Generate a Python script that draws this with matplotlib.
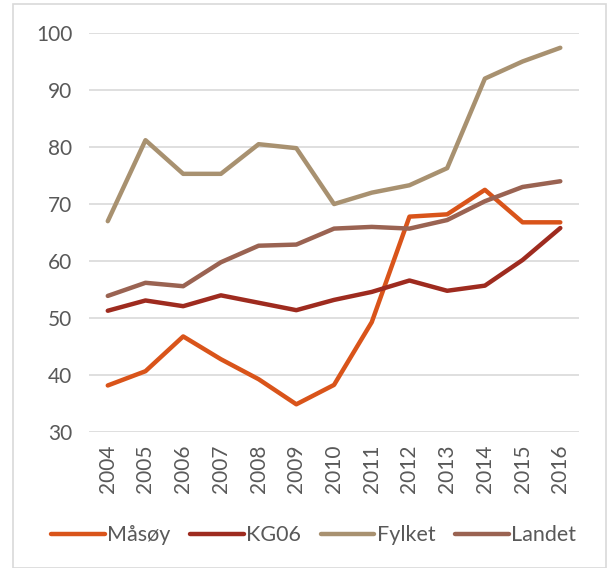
import matplotlib
matplotlib.use('Agg')
from matplotlib import pyplot as plt
from matplotlib.patches import Rectangle

years = ["2004", "2005", "2006", "2007", "2008", "2009", "2010",
         "2011", "2012", "2013", "2014", "2015", "2016"]
masoy = [38.2, 40.7, 46.8, 42.8, 39.3, 34.9, 38.3, 49.3, 67.8, 68.2, 72.5, 66.8, 66.8]
kg06 = [51.3, 53.1, 52.1, 54.0, 52.7, 51.4, 53.2, 54.6, 56.6, 54.8, 55.7, 60.2, 65.8]
fylket = [67.0, 81.2, 75.3, 75.3, 80.5, 79.8, 70.0, 72.0, 73.3, 76.3, 92.0, 95.0, 97.4]
landet = [53.9, 56.2, 55.6, 59.8, 62.7, 62.9, 65.7, 66.0, 65.7, 67.2, 70.5, 73.0, 74.0]

series = [("Måsøy", masoy, "#D9541A"),
          ("KG06", kg06, "#9E2B1F"),
          ("Fylket", fylket, "#A89170"),
          ("Landet", landet, "#9A6352")]

plt.rcParams['font.family'] = ['Lato', 'DejaVu Sans']
text_col = "#595959"

fig = plt.figure(figsize=(6.09, 5.68), dpi=100)
ax = fig.add_axes([0.146, 0.239, 0.805, 0.703])

x = range(len(years))
for name, vals, col in series:
    ax.plot(x, vals, color=col, linewidth=3.2, label=name, solid_capstyle='round')

ax.set_xlim(-0.5, len(years) - 0.5)
ax.set_ylim(30, 100)
ax.set_yticks(range(30, 101, 10))
ax.set_xticks(list(x))
ax.set_xticklabels(years, rotation=90)
ax.tick_params(axis='both', length=0, labelsize=15, labelcolor=text_col)
ax.tick_params(axis='y', pad=12)
ax.tick_params(axis='x', pad=9)
ax.grid(axis='y', color='#D9D9D9', linewidth=1.2)
ax.set_axisbelow(True)
for s in ax.spines.values():
    s.set_visible(False)

leg = fig.legend(loc='center', bbox_to_anchor=(0.515, 0.058), ncol=4, frameon=False,
                 fontsize=15.5, handlelength=2.5, handletextpad=0.12, columnspacing=0.9)
for t in leg.get_texts():
    t.set_color(text_col)

fig.patches.append(Rectangle((13 / 609, 0), 593 / 609, 1 - 4 / 568, transform=fig.transFigure,
                             fill=False, edgecolor='#D9D9D9', linewidth=1.2))

fig.savefig('out.png', dpi=100)
